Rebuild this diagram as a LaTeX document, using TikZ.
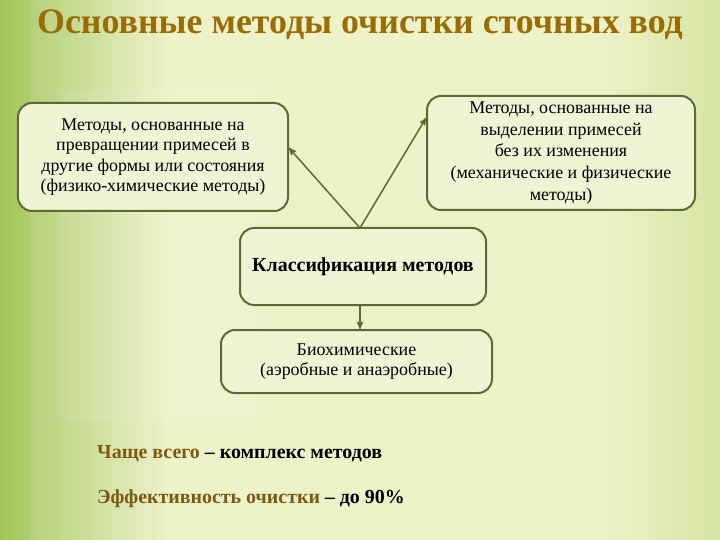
\documentclass[tikz,border=0pt]{standalone}
\usepackage{fontspec}
\setmainfont{Liberation Serif}
\usepackage{tikz}
\usetikzlibrary{arrows}
\tikzset{b/.style={draw=boxline,line width=2bp,fill=boxfill,rounded corners=14bp,align=center,font=\fontsize{18}{20.5}\selectfont,inner sep=0pt}}
\tikzset{l/.style={draw=boxline,line width=1.5bp,->,>=stealth'}}
\tikzset{t/.style={font=\fontsize{20}{22}\selectfont\bfseries,anchor=base west,inner sep=0pt}}
\definecolor{boxline}{HTML}{5B6B32}
\definecolor{boxfill}{HTML}{EEF4D4}
\definecolor{titlecol}{HTML}{9A6C05}
\definecolor{brownish}{HTML}{7C5A12}
\definecolor{bgpale}{HTML}{EEF2C9}
\definecolor{bgleft}{HTML}{A2C55A}
\definecolor{bgright}{HTML}{D6E5A2}

\begin{document}
\begin{tikzpicture}[x=1bp,y=-1bp]
        % background
        \fill[bgpale] (0,0) rectangle (720,540);
        \shade[left color=bgleft,right color=bgpale] (0,0) rectangle (170,540);
        \shade[left color=bgpale,right color=bgright] (600,0) rectangle (720,540);
        \fill[white,opacity=0.08] (30,0) rectangle (150,540);
        \fill[white,opacity=0.08] (60,90) rectangle (260,420);
        \useasboundingbox (0,0) rectangle (720,540);
        \node (title) at (360,25) [font=\fontsize{36}{38}\selectfont\bfseries,text=titlecol] {Основные методы очистки сточных вод};
        \node (conv) at (153,157) [b,minimum width=270bp,minimum height=108bp] {Методы, основанные на\\превращении примесей в\\другие формы или состояния\\(физико-химические методы)};
        \node (sep) at (561,153) [b,minimum width=268bp,minimum height=114bp,font=\fontsize{18}{21.7}\selectfont] {Методы, основанные на\\выделении примесей\\без их изменения\\(механические и физические\\методы)};
        \node (cls) at (363,266.5) [b,minimum width=246bp,minimum height=77bp,font=\fontsize{20}{22}\selectfont\bfseries] {Классификация методов};
        \node (bio) at (356.5,361.5) [b,minimum width=271bp,minimum height=63bp] {Биохимические\\(аэробные и анаэробные)};
        \coordinate (top) at (360,228);
        \draw[l] (top) -- (conv.east |- 0,148);
        \draw[l] (top) -- (sep.west |- 0,118);
        \draw[l] (cls.south -| top) -- (bio.north -| top);
        \node (often) at (97,458) [t] {\textcolor{brownish}{Чаще всего} – комплекс методов};
        \node (eff) at (97,503) [t] {\textcolor{brownish}{Эффективность очистки} – до 90\%};
      \end{tikzpicture}
\end{document}
